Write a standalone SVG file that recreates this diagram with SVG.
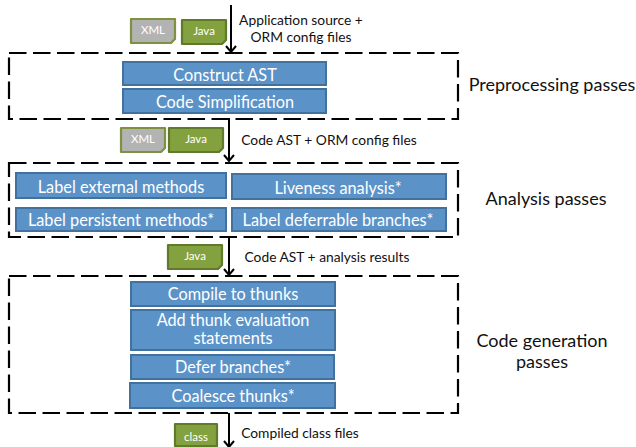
<svg xmlns="http://www.w3.org/2000/svg" width="636" height="447" viewBox="0 0 636 447">
<style>
text{font-family:"Lato","Open Sans","Liberation Sans",sans-serif;text-anchor:middle}
.b{fill:#5b93c9;stroke:#41719c;stroke-width:2}
.w{fill:#fff;font-size:16.3px}
.d{fill:none;stroke:#000;stroke-width:2.2;stroke-dasharray:17.5 6.5}
.a{fill:none;stroke:#000;stroke-width:2}
.h{fill:none;stroke:#000;stroke-width:2}
.l{fill:#111;font-size:13.8px}
.p{fill:#111;font-size:18px}
.x{fill:#b3b3b3;stroke:#7d9140;stroke-width:2.2;stroke-linejoin:round}
.j{fill:#83a13e;stroke:#5f7a2b;stroke-width:2.2;stroke-linejoin:round}
.t{fill:#fff;font-size:11.5px}
</style>
<g id="connectors">
<path class="a" d="M231 5V52"/><path class="h" d="M226 46L231 52L236 46"/>
<path class="a" d="M229 118V161"/><path class="h" d="M224 155L229 161L234 155"/>
<path class="a" d="M229 237V275"/><path class="h" d="M224 269L229 275L234 269"/>
<path class="a" d="M229 413V446"/><path class="h" d="M224 441L229 447L234 441"/>
</g>
<g id="group-preprocessing"><path class="d" d="M9 53H458V119H9Z"/><text class="p" x="552" y="91">Preprocessing passes</text></g>
<g id="group-analysis"><path class="d" d="M9 163H458V237H9Z"/><text class="p" x="546" y="205">Analysis passes</text></g>
<g id="group-codegen"><path class="d" d="M9 276H458V413H9Z"/><text class="p" x="542" y="347">Code generation</text><text class="p" x="542" y="368">passes</text></g>
<g id="construct-ast"><rect class="b" x="123" y="62" width="203" height="23"/><text class="w" x="225" y="81">Construct AST</text></g>
<g id="code-simplification"><rect class="b" x="123" y="89" width="203" height="24"/><text class="w" x="225" y="108">Code Simplification</text></g>
<g id="label-external"><rect class="b" x="16" y="173" width="210" height="25"/><text class="w" x="121" y="193">Label external methods</text></g>
<g id="liveness"><rect class="b" x="232" y="174" width="214" height="25"/><text class="w" x="338" y="194">Liveness analysis*</text></g>
<g id="label-persistent"><rect class="b" x="16" y="208" width="210" height="23"/><text class="w" x="121" y="226">Label persistent methods*</text></g>
<g id="label-deferrable"><rect class="b" x="232" y="208" width="214" height="23"/><text class="w" x="338" y="226">Label deferrable branches*</text></g>
<g id="compile-thunks"><rect class="b" x="131" y="282" width="204" height="24"/><text class="w" x="233" y="300">Compile to thunks</text></g>
<g id="add-thunk"><rect class="b" x="131" y="310" width="204" height="40"/><text class="w" x="233" y="326">Add thunk evaluation</text><text class="w" x="233" y="344">statements</text></g>
<g id="defer-branches"><rect class="b" x="131" y="355" width="203" height="24"/><text class="w" x="233" y="373">Defer branches*</text></g>
<g id="coalesce-thunks"><rect class="b" x="130" y="383" width="205" height="25"/><text class="w" x="233" y="402">Coalesce thunks*</text></g>
<g id="file-xml-1"><path class="x" d="M131 19H175V39L171 43H131Z"/><text class="t" x="153" y="34">XML</text></g>
<g id="file-java-1"><path class="j" d="M182 20H226V40L222 44H182Z"/><text class="t" x="204" y="35">Java</text></g>
<g id="file-xml-2"><path class="x" d="M121 128H165V148L161 152H121Z"/><text class="t" x="143" y="143">XML</text></g>
<g id="file-java-2"><path class="j" d="M169 128H223V148L219 152H169Z"/><text class="t" x="196" y="143">Java</text></g>
<g id="file-java-3"><path class="j" d="M168 245H222V265L218 269H168Z"/><text class="t" x="195" y="260">Java</text></g>
<g id="file-class"><path class="j" d="M175 424H217V446H175Z"/><text class="t" x="196" y="441">class</text></g>
<g id="labels">
<text class="l" x="301" y="25">Application source +</text>
<text class="l" x="301" y="42">ORM config files</text>
<text class="l" x="329" y="145">Code AST + ORM config files</text>
<text class="l" x="327" y="262">Code AST + analysis results</text>
<text class="l" x="300" y="438">Compiled class files</text>
</g>
</svg>
